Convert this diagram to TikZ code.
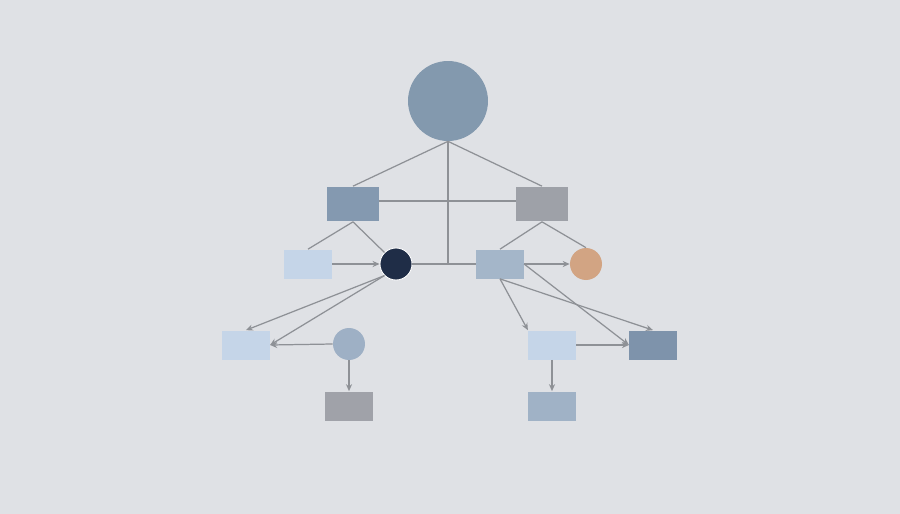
\documentclass[tikz,border=0pt]{standalone}
\usetikzlibrary{arrows.meta}
\definecolor{bg}{HTML}{DFE1E5}
\definecolor{edge}{HTML}{8E9196}
\definecolor{cTop}{HTML}{8399AE}
\definecolor{cA}{HTML}{8499B0}
\definecolor{cB}{HTML}{9EA1A8}
\definecolor{cLight}{HTML}{C5D5E8}
\definecolor{cDark}{HTML}{1F2D47}
\definecolor{cC}{HTML}{A4B6C9}
\definecolor{cOr}{HTML}{D2A483}
\definecolor{cF}{HTML}{9EB0C5}
\definecolor{cG}{HTML}{A0A2A9}
\definecolor{cI}{HTML}{7E93AB}
\definecolor{cJ}{HTML}{A0B2C6}
\begin{document}
\begin{tikzpicture}[x=0.02cm,y=-0.02cm,
  bigbox/.style={rectangle,draw=none,inner sep=0pt,minimum width=1.04cm,minimum height=0.7cm},
  smallbox/.style={rectangle,draw=none,inner sep=0pt,minimum width=0.95cm,minimum height=0.58cm},
  smallcirc/.style={circle,draw=none,inner sep=0pt,minimum size=0.64cm},
  conn/.style={draw=edge,line width=0.7pt},
  arr/.style={conn,-{Stealth[length=4pt,width=3.5pt]}}]
\fill[bg] (0,0) rectangle (900,514);
\useasboundingbox (0,0) rectangle (900,514);
% nodes
\node[circle,fill=cTop,inner sep=0pt,minimum size=1.6cm] (top) at (448,101) {};
\node[bigbox,fill=cA] (A) at (353,204) {};
\node[bigbox,fill=cB] (B) at (542,204) {};
\node[smallbox,fill=cLight] (D) at (308,264) {};
\node[smallcirc,fill=cDark,draw=white,line width=0.5pt] (dk) at (396,264) {};
\node[smallbox,fill=cC] (C) at (500,264) {};
\node[smallcirc,fill=cOr] (or) at (586,264) {};
\node[smallbox,fill=cLight] (E) at (246,345) {};
\node[smallcirc,fill=cF] (F) at (349,344) {};
\node[smallbox,fill=cG] (G) at (349,406) {};
\node[smallbox,fill=cLight] (H) at (552,345) {};
\node[smallbox,fill=cI] (I) at (653,345) {};
\node[smallbox,fill=cJ] (J) at (552,406) {};
\coordinate (j) at (448,264);
% connectors
\draw[conn] (top.south) -- (A.north);
\draw[conn] (top.south) -- (B.north);
\draw[conn] (top.south) -- (j);
\draw[conn] ([yshift=0.06cm]A.east) -- ([yshift=0.06cm]B.west);
\draw[conn] (dk.east) -- (C.west);
\draw[conn] (A.south) -- (D.north);
\draw[conn] (A.south) -- (dk.north west);
\draw[conn] (B.south) -- (C.north);
\draw[conn] (B.south) -- (or.north);
\draw[arr] (D.east) -- (dk.west);
\draw[arr] (C.east) -- (or.west);
\draw[arr] (dk.south west) -- (E.north);
\draw[arr] (dk.south west) -- (E.east);
\draw[arr] (F.west) -- (E.east);
\draw[arr] (F.south) -- (G.north);
\draw[arr] (C.south) -- (H.north west);
\draw[arr] (C.south) -- (I.north);
\draw[arr] (C.east) -- (I.west);
\draw[arr] (H.east) -- (I.west);
\draw[arr] (H.south) -- (J.north);
\end{tikzpicture}
\end{document}
